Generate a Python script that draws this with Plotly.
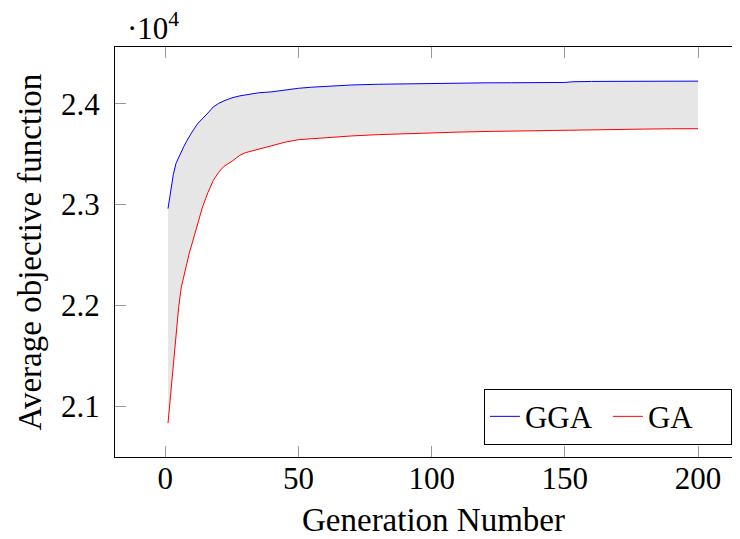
import plotly.graph_objects as go
import numpy as np

generation = [1, 2, 3, 4, 5, 6, 7, 8, 9, 10, 12, 14, 16, 18, 20, 22, 25, 28, 30,
              35, 40, 45, 50, 55, 60, 70, 80, 90, 100, 110, 120, 130, 140, 150,
              153, 155, 160, 170, 180, 190, 200]

gga = [22960, 23130, 23300, 23410, 23470, 23520, 23580, 23630, 23680, 23720,
       23800, 23850, 23910, 23970, 24005, 24030, 24060, 24080, 24090,
       24110, 24120, 24140, 24155, 24166, 24175, 24188, 24195, 24200, 24206,
       24208, 24209, 24210, 24211, 24213, 24220, 24222, 24223, 24224, 24225,
       24226, 24226]

ga = [20830, 21120, 21450, 21720, 21980, 22180, 22300, 22420, 22520, 22610,
      22800, 22980, 23120, 23240, 23320, 23380, 23430, 23490, 23515,
      23552, 23585, 23620, 23645, 23655, 23665, 23682, 23695, 23705, 23714,
      23720, 23726, 23731, 23735, 23738, 23739, 23740, 23741, 23745, 23750,
      23753, 23754]

x_ticks = [0, 50, 100, 150, 200]
y_ticks = [2.1, 2.2, 2.3, 2.4]
scale = 1e4

FONT = "Liberation Serif"
FS = 31
FT = 33

g = np.array(gga) / scale
r = np.array(ga) / scale

fig = go.Figure()
# shaded band between the two curves
fig.add_trace(go.Scatter(x=generation, y=g, mode="lines", line=dict(width=0),
                         showlegend=False, hoverinfo="skip"))
fig.add_trace(go.Scatter(x=generation, y=r, mode="lines", line=dict(width=0),
                         fill="tonexty", fillcolor="#e6e6e6",
                         showlegend=False, hoverinfo="skip"))
fig.add_trace(go.Scatter(x=generation, y=g, mode="lines",
                         name="GGA", line=dict(color="#0000ff", width=1)))
fig.add_trace(go.Scatter(x=generation, y=r, mode="lines",
                         name="GA", line=dict(color="#ff0000", width=1)))

fig.update_layout(
    width=743, height=539,
    margin=dict(l=107, r=0, t=39, b=90, autoexpand=False),
    plot_bgcolor="white", paper_bgcolor="white",
    font=dict(family=FONT, size=FS, color="black"),
    showlegend=True,
    legend=dict(orientation="h", x=0.970, xanchor="right", y=0.03, yanchor="bottom",
                bordercolor="black", borderwidth=1, bgcolor="white",
                font=dict(family=FONT, size=FS), traceorder="normal",
                tracegroupgap=0, entrywidth=78, entrywidthmode="pixels"),
    xaxis=dict(range=[-18.9, 219.9], tickvals=x_ticks, ticks="inside", ticklen=11,
               tickcolor="#999999", tickwidth=1, showline=True, linecolor="black",
               linewidth=1, mirror="allticks", showgrid=False, zeroline=False,
               automargin=False,
               tickfont=dict(family=FONT, size=FS), ticklabelstandoff=-6),
    yaxis=dict(range=[2.0494, 2.4565], tickvals=y_ticks, tickformat=".1f",
               ticks="inside", ticklen=11, tickcolor="#999999", tickwidth=1,
               showline=True, linecolor="black", linewidth=1, mirror="allticks",
               showgrid=False, zeroline=False, automargin=False,
               tickfont=dict(family=FONT, size=FS), ticklabelstandoff=8),
    annotations=[
        dict(text="Generation Number", xref="paper", yref="paper",
             x=0.5, y=-0.154, xanchor="center", yanchor="middle",
             showarrow=False, font=dict(family=FONT, size=FT)),
        dict(text="Average objective function", xref="paper", yref="paper",
             x=-0.133, y=0.5, xanchor="center", yanchor="middle", textangle=-90,
             showarrow=False, font=dict(family=FONT, size=FT)),
        dict(text="·10<sup>4</sup>", xref="paper", yref="paper",
             x=0.016, y=1.05, xanchor="left", yanchor="middle",
             showarrow=False, font=dict(family=FONT, size=FS)),
    ],
)

fig.write_html("out.html")
